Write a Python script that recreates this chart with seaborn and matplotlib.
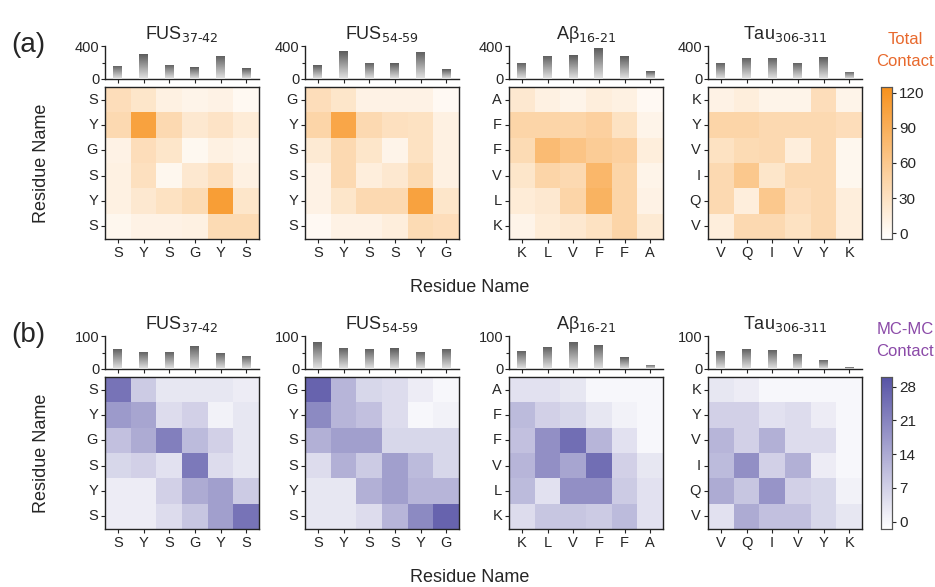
import numpy as np
import pandas as pd
import matplotlib
matplotlib.use("Agg")
import matplotlib.pyplot as plt
import seaborn as sns
from matplotlib.colors import LinearSegmentedColormap
from matplotlib.ticker import MultipleLocator

# --- datos ---
titles = ["FUS$_\\text{37-42}$", "FUS$_\\text{54-59}$",
          "Aβ$_\\text{16-21}$", "Tau$_\\text{306-311}$"]
seq_fus37 = ["S", "Y", "S", "G", "Y", "S"]
seq_fus54 = ["S", "Y", "S", "S", "Y", "G"]
seq_abeta = ["K", "L", "V", "F", "F", "A"]
seq_tau = ["V", "Q", "I", "V", "Y", "K"]
sequences = [seq_fus37, seq_fus54, seq_abeta, seq_tau]

# contactos totales (filas de arriba hacia abajo, como se ven)
total_fus37 = [[35, 25, 12, 8, 10, 3],
               [40, 105, 40, 22, 28, 18],
               [10, 35, 25, 4, 12, 8],
               [12, 32, 5, 22, 32, 12],
               [12, 22, 30, 38, 110, 25],
               [5, 10, 10, 12, 38, 38]]
total_fus54 = [[35, 25, 10, 10, 10, 2],
               [45, 100, 40, 32, 30, 12],
               [20, 40, 25, 8, 30, 12],
               [10, 40, 15, 22, 38, 12],
               [10, 25, 40, 40, 105, 25],
               [2, 10, 10, 15, 38, 35]]
total_abeta = [[22, 12, 8, 15, 12, 2],
               [45, 45, 45, 50, 30, 8],
               [38, 75, 65, 55, 50, 15],
               [25, 45, 40, 80, 45, 8],
               [18, 22, 45, 85, 45, 10],
               [8, 18, 22, 30, 45, 20]]
total_tau = [[10, 15, 8, 8, 35, 8],
             [45, 45, 40, 40, 40, 35],
             [30, 38, 40, 15, 40, 5],
             [40, 60, 25, 40, 40, 5],
             [40, 15, 60, 35, 40, 15],
             [15, 40, 40, 30, 40, 15]]
total_maps = [total_fus37, total_fus54, total_abeta, total_tau]

total_bars_fus37 = [160, 300, 170, 140, 280, 130]
total_bars_fus54 = [165, 335, 200, 190, 330, 120]
total_bars_abeta = [195, 280, 290, 370, 275, 95]
total_bars_tau = [200, 260, 255, 195, 265, 85]
total_bars = [total_bars_fus37, total_bars_fus54, total_bars_abeta, total_bars_tau]

# contactos MC-MC
mc_fus37 = [[24, 8, 3, 3, 3, 2],
            [17, 15, 5, 7, 1, 3],
            [10, 14, 22, 11, 7, 3],
            [6, 7, 4, 23, 5, 3],
            [2, 2, 7, 14, 16, 8],
            [2, 2, 5, 9, 16, 24]]
mc_fus54 = [[27, 12, 6, 5, 2, 0],
            [20, 12, 10, 5, 0, 1],
            [13, 16, 16, 6, 6, 6],
            [5, 13, 8, 16, 11, 6],
            [3, 3, 13, 16, 12, 12],
            [3, 3, 5, 12, 20, 27]]
mc_abeta = [[4, 4, 3, 0, 0, 0],
            [11, 7, 6, 3, 1, 0],
            [10, 19, 25, 12, 4, 0],
            [12, 19, 15, 25, 7, 3],
            [11, 4, 19, 19, 8, 4],
            [5, 9, 9, 8, 11, 4]]
mc_tau = [[3, 2, 0, 0, 0, 0],
          [7, 7, 4, 5, 2, 0],
          [12, 7, 13, 5, 5, 0],
          [11, 19, 7, 13, 2, 0],
          [14, 9, 18, 7, 6, 1],
          [4, 14, 10, 10, 6, 3]]
mc_maps = [mc_fus37, mc_fus54, mc_abeta, mc_tau]

mc_bars_fus37 = [62, 53, 52, 70, 50, 40]
mc_bars_fus54 = [82, 65, 62, 63, 53, 62]
mc_bars_abeta = [55, 68, 83, 73, 35, 13]
mc_bars_tau = [55, 62, 58, 46, 28, 5]
mc_bars = [mc_bars_fus37, mc_bars_fus54, mc_bars_abeta, mc_bars_tau]

# --- estilo ---
sns.set_style("white")
plt.rcParams["font.family"] = ["Liberation Sans", "DejaVu Sans"]
plt.rcParams["mathtext.default"] = "regular"

W, H = 935, 587
fig = plt.figure(figsize=(W / 100, H / 100), dpi=100)


def px(left, top, width, height):
    # convierte pixeles a coordenadas de figura
    return [left / W, 1 - (top + height) / H, width / W, height / H]


orange = LinearSegmentedColormap.from_list("orange", ["#ffffff", "#f7911c"])
purple = LinearSegmentedColormap.from_list("purple", ["#ffffff", "#5753a6"])
gray = LinearSegmentedColormap.from_list("gray", ["#e4e4e4", "#5c5c5c"])


def gradient_bars(ax, ymax):
    grad = np.linspace(0, 1, 64).reshape(-1, 1)
    for p in list(ax.patches):
        x0, w, h = p.get_x(), p.get_width(), p.get_height()
        im = ax.imshow(grad, extent=[x0, x0 + w, 0, h], origin="lower",
                       cmap=gray, aspect="auto", zorder=3)
        im.set_clip_path(p)
    ax.set_xlim(-0.5, 5.5)
    ax.set_ylim(0, ymax)


lefts = [105, 305, 509, 708]
rows = [
    dict(maps=total_maps, bars=total_bars, cmap=orange, vmin=-5, vmax=125,
         ymax=400, cticks=[0, 30, 60, 90, 120], bar_top=46, hm_top=87,
         label="(a)", clabel=["Total", "Contact"], ccolor="#e8692d"),
    dict(maps=mc_maps, bars=mc_bars, cmap=purple, vmin=-1.5, vmax=30,
         ymax=100, cticks=[0, 7, 14, 21, 28], bar_top=336, hm_top=377,
         label="(b)", clabel=["MC-MC", "Contact"], ccolor="#8b4aa8"),
]

for r in rows:
    cax = fig.add_axes(px(881, r["hm_top"], 11, 152))
    for i in range(4):
        seq = sequences[i]
        df = pd.DataFrame(r["maps"][i], index=seq[::-1], columns=seq)
        ax = fig.add_axes(px(lefts[i], r["hm_top"], 154, 152))
        sns.heatmap(df, ax=ax, cmap=r["cmap"], vmin=r["vmin"], vmax=r["vmax"],
                    cbar=(i == 3), cbar_ax=cax if i == 3 else None,
                    xticklabels=seq, yticklabels=seq[::-1])
        for s in ax.spines.values():
            s.set_visible(True)
            s.set_color("#222222")
            s.set_linewidth(1.0)
        ax.tick_params(axis="both", which="both", length=3, width=0.8,
                       labelsize=10.5, pad=2, color="#222222")
        ax.tick_params(left=True, bottom=True)
        ax.set_yticklabels(seq[::-1], rotation=0)
        ax.set_xticklabels(seq, rotation=0)
        ax.set_xlabel("")
        ax.set_ylabel("")

        # barras superiores
        bax = fig.add_axes(px(lefts[i], r["bar_top"], 154, 33))
        sns.barplot(x=np.arange(6), y=r["bars"][i], ax=bax, width=0.35,
                    color="#888888", linewidth=0)
        gradient_bars(bax, r["ymax"])
        sns.despine(ax=bax)
        bax.set_xticks(range(6))
        bax.set_xticklabels([])
        bax.set_yticks([0, r["ymax"]])
        bax.yaxis.set_minor_locator(MultipleLocator(r["ymax"] / 2))
        bax.tick_params(axis="both", which="major", length=3, width=0.8,
                        labelsize=10.5, pad=1, color="#222222", left=True, bottom=True)
        bax.tick_params(axis="y", which="minor", length=2, width=0.8, left=True)
        for s in ["left", "bottom"]:
            bax.spines[s].set_color("#222222")
            bax.spines[s].set_linewidth(1.0)
        bax.set_xlabel("")
        bax.set_ylabel("")
        bax.patch.set_alpha(0)

        fig.text((lefts[i] + 77) / W, 1 - (r["bar_top"] - 7) / H, titles[i],
                 ha="center", va="baseline", fontsize=13)

    cax.set_yticks(r["cticks"])
    cax.tick_params(axis="y", length=3, width=0.8, labelsize=11, pad=2, right=True)
    for s in cax.spines.values():
        s.set_visible(True)
        s.set_color("#555555")
        s.set_linewidth(0.8)

    # texto de colorbar y etiquetas
    fig.text(905 / W, 1 - (r["bar_top"] - 6) / H, r["clabel"][0], ha="center",
             va="center", fontsize=12, color=r["ccolor"])
    fig.text(905 / W, 1 - (r["bar_top"] + 16) / H, r["clabel"][1], ha="center",
             va="center", fontsize=12, color=r["ccolor"])
    fig.text(28 / W, 1 - (r["bar_top"] - 1) / H, r["label"], ha="center",
             va="center", fontsize=20)
    fig.text(42 / W, 1 - (r["hm_top"] + 76) / H, "Residue Name", ha="center",
             va="center", rotation=90, fontsize=13)
    fig.text(470 / W, 1 - (r["hm_top"] + 200) / H, "Residue Name", ha="center",
             va="center", fontsize=13)

fig.savefig("out.png", dpi=100)
